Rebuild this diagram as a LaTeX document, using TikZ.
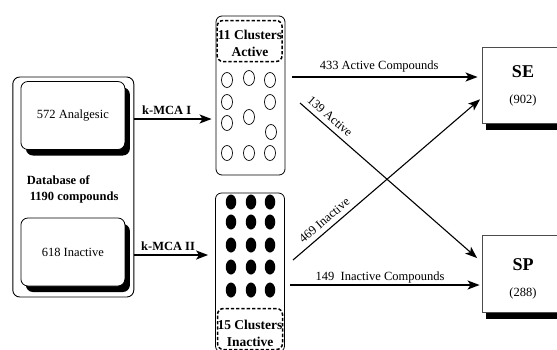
\documentclass[tikz,border=0pt]{standalone}
\usepackage{fontspec}
\setmainfont{Liberation Serif}
\usetikzlibrary{arrows.meta,positioning,shadows,shapes.geometric}

\begin{document}
\begin{tikzpicture}[
    x=1pt, y=-1pt,
    font=\fontsize{12.5}{15}\selectfont,
    >={Stealth[length=12pt, width=9pt, inset=3pt]},
    outer/.style={draw, rounded corners=7pt, line width=0.9pt},
    inbox/.style={draw, fill=white, rounded corners=7pt, line width=0.8pt,
                  minimum width=104pt, minimum height=68pt,
                  drop shadow={shadow xshift=5pt, shadow yshift=-6pt, fill=black, opacity=1}},
    clbox/.style={draw, rounded corners=6pt, line width=0.8pt,
                  minimum width=69pt, minimum height=159pt},
    tagbox/.style={draw, dash pattern=on 3.3pt off 2pt, line width=1.5pt,
                   rounded corners=6pt, minimum width=65pt, minimum height=41pt},
    tagtext/.style={font=\fontsize{13.5}{17}\selectfont\bfseries, align=center, inner sep=0pt},
    opencl/.style={draw, ellipse, line width=0.7pt, minimum width=11pt,
                   minimum height=15pt, inner sep=0pt},
    fullcl/.style={fill, ellipse, minimum width=10.5pt, minimum height=15pt, inner sep=0pt},
    outbox/.style={draw=black!70, fill=white, line width=0.8pt,
                   minimum width=80pt, minimum height=76pt,
                   drop shadow={shadow xshift=4pt, shadow yshift=-7pt, fill=black, opacity=1}},
    bigname/.style={font=\fontsize{18}{20}\selectfont\bfseries, inner sep=0pt},
    lab/.style={font=\fontsize{12.5}{15}\selectfont\bfseries},
    flow/.style={->, line width=1.8pt},
    cross/.style={->, line width=1.1pt},
  ]
    \useasboundingbox (0,0) rectangle (557,349);
    \clip (0,0) rectangle (557,349);

    % --- database of compounds ------------------------------------------
    \node[outer, minimum width=121pt, minimum height=220pt] (db) at (73.3,187) {};
    \node[inbox] (ana) at (72.9,115.5) {572 Analgesic};
    \node[inbox] (ina) at (72.9,252) {618 Inactive};
    \node[lab, font=\fontsize{12.5}{16}\selectfont\bfseries, align=left,
          anchor=west, inner sep=0pt] (dbtxt) at (26.7,189)
      {Database of\\\hspace*{3pt}1190 compounds};

    % --- active clusters (open) -----------------------------------------
    \node[clbox] (clA) at (250.5,95.5) {};
    \node[tagbox] (tagA) at (249.6,41) {};
    \node[tagtext] (tagAt) at (250,43.5) {11 Clusters\\Active};
    \foreach \cx/\cy [count=\i] in {227/80, 249/78, 270/80, 227/102, 270/102,
                                   249/117, 227/123, 271/132, 227/153, 249/153, 270/153}
      \node[opencl] (oA\i) at (\cx,\cy) {};

    % --- inactive clusters (filled) -------------------------------------
    \node[clbox] (clI) at (250,272.5) {};
    \node[tagbox] (tagI) at (250,329) {};
    \node[tagtext] (tagIt) at (250,333.5) {15 Clusters\\Inactive};
    \foreach \cy [count=\r] in {202,222,245,267,290}
      \foreach \cx [count=\c] in {231,251,270}
        \node[fullcl] (fI\r\c) at (\cx,\cy) {};

    % --- target classes ---------------------------------------------------
    \node[outbox] (SE) at (522,85) {};
    \node[bigname] (seN) at (523,72) {SE};
    \node (seV) at (523,100) {(902)};
    \node[outbox, minimum height=77pt] (SP) at (522,273.5) {};
    \node[bigname] (spN) at (523,265) {SP};
    \node (spV) at (523,293) {(288)};

    % --- k-MCA arrows -----------------------------------------------------
    \coordinate (kA) at (134,119);
    \coordinate (kI) at (134,255);
    \draw[flow, shorten >=4pt] (kA) -- (kA -| clA.west)
      node[lab, pos=0.4, above, inner sep=3pt] (kAl) {k-MCA I};
    \draw[flow, shorten >=7pt] (kI) -- (kI -| clI.west)
      node[lab, pos=0.42, above, inner sep=3pt] (kIl) {k-MCA II};

    % --- cluster -> class arrows -------------------------------------------
    \coordinate (aS) at (292,77);
    \coordinate (bS) at (300,103);
    \coordinate (cS) at (293,260);
    \coordinate (dS) at (290,285);
    \draw[flow, shorten >=4pt] (aS) -- (aS -| SE.west)
      node[pos=0.46, above, inner sep=4pt] (aL) {433 Active Compounds};
    \draw[cross, shorten >=6pt] (bS) -- ([yshift=11.5pt]SP.west)
      node[sloped, above, pos=0.13, inner sep=5pt] (bL) {139 Active};
    \draw[cross, shorten >=2pt] (cS) -- ([yshift=-13pt]SE.west)
      node[sloped, above, pos=0.2, inner sep=5pt] (cL) {469 Inactive};
    \draw[flow, shorten >=2pt] (dS) -- (dS -| SP.west)
      node[pos=0.47, above, inner sep=1pt] (dL) {149\ \ Inactive Compounds};
\end{tikzpicture}
\end{document}
